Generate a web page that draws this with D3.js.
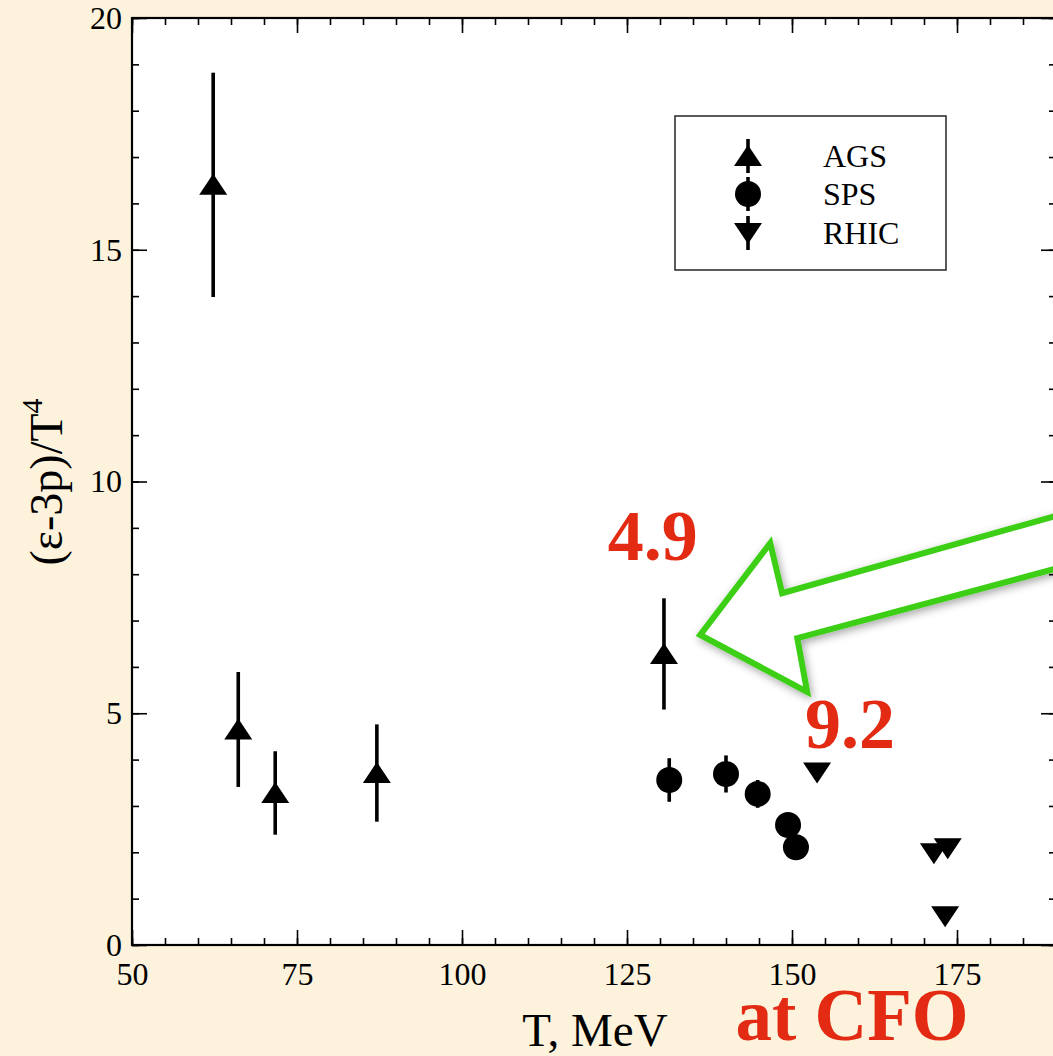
<!DOCTYPE html>
<html>
<head>
<meta charset="utf-8">
<script src="https://cdn.jsdelivr.net/npm/d3@7"></script>
<style>
  html, body { margin: 0; padding: 0; background: #fdf3dc; }
  svg { display: block; }
  text { font-family: "Liberation Serif", "Times New Roman", serif; }
</style>
</head>
<body>
<svg width="1053" height="1056"></svg>
<script>
// data
var agsT   = [62.3, 66.1, 71.7, 87.1, 130.6];
var agsV   = [16.4, 4.65, 3.28, 3.71, 6.28];
var agsErr = [2.42, 1.24, 0.90, 1.05, 1.20];

var spsT   = [131.4, 140.0, 144.8, 149.4, 150.6];
var spsV   = [3.56, 3.69, 3.26, 2.59, 2.11];
var spsErr = [0.47, 0.40, 0.30, 0.20, 0.15];

var rhicT  = [153.8, 171.5, 173.6, 173.2];
var rhicV  = [3.72, 1.98, 2.09, 0.62];

var xMajor = [50, 75, 100, 125, 150, 175];
var yMajor = [0, 5, 10, 15, 20];

// arrow outline, in data units (T, value)
var arrowPts = [[136.1, 6.69], [146.7, 8.67], [148.5, 7.59], [191.5, 9.32],
                [191.5, 8.18], [150.8, 6.62], [152.3, 5.46]];

var notes = [{t: 128.9, v: 8.3, text: "4.9"}, {t: 158.8, v: 4.25, text: "9.2"}];

var svg = d3.select("svg"),
    pLeft = 132, pRight = 1056, pTop = 18, pBottom = 945;

var x = d3.scaleLinear().domain([50, 190]).range([pLeft, pRight]);
var y = d3.scaleLinear().domain([0, 20]).range([pBottom, pTop]);

var defs = svg.append("defs");
var shadow = defs.append("filter").attr("id", "shadow")
    .attr("x", "-20%").attr("y", "-20%").attr("width", "140%").attr("height", "140%");
shadow.append("feDropShadow")
    .attr("dx", 2).attr("dy", 3).attr("stdDeviation", 4)
    .attr("flood-color", "#000").attr("flood-opacity", 0.35);

// plot area
svg.append("rect")
    .attr("x", pLeft).attr("y", pTop)
    .attr("width", pRight - pLeft).attr("height", pBottom - pTop)
    .attr("fill", "#fff");

function minorTicks(a, b, step) {
  return d3.range(a, b + 0.001, step);
}

function styleAxis(g) {
  g.attr("font-size", 32).attr("font-family", '"Liberation Serif", "Times New Roman", serif');
  g.select(".domain").remove();
  g.selectAll(".tick line").attr("stroke", "#000").attr("stroke-width", 1.6);
  g.selectAll("text").attr("fill", "#000");
  // ticks without labels don't need empty text nodes
  g.selectAll("text").filter(function() { return this.textContent === ""; }).remove();
}

// bottom
svg.append("g").attr("transform", "translate(0," + pBottom + ")")
    .call(d3.axisBottom(x).tickValues(minorTicks(50, 190, 5)).tickSize(-7).tickFormat(""))
    .call(styleAxis);
svg.append("g").attr("transform", "translate(0," + pBottom + ")")
    .call(d3.axisBottom(x).tickValues(xMajor).tickSize(-15).tickPadding(17).tickFormat(d3.format("d")))
    .call(styleAxis);
// top
svg.append("g").attr("transform", "translate(0," + pTop + ")")
    .call(d3.axisTop(x).tickValues(minorTicks(50, 190, 5)).tickSize(-7).tickFormat(""))
    .call(styleAxis);
svg.append("g").attr("transform", "translate(0," + pTop + ")")
    .call(d3.axisTop(x).tickValues(xMajor).tickSize(-15).tickFormat(""))
    .call(styleAxis);
// left
svg.append("g").attr("transform", "translate(" + pLeft + ",0)")
    .call(d3.axisLeft(y).tickValues(minorTicks(0, 20, 1)).tickSize(-7).tickFormat(""))
    .call(styleAxis);
svg.append("g").attr("transform", "translate(" + pLeft + ",0)")
    .call(d3.axisLeft(y).tickValues(yMajor).tickSize(-15).tickPadding(10).tickFormat(d3.format("d")))
    .call(styleAxis);
// right
svg.append("g").attr("transform", "translate(" + pRight + ",0)")
    .call(d3.axisRight(y).tickValues(minorTicks(0, 20, 1)).tickSize(-7).tickFormat(""))
    .call(styleAxis);
svg.append("g").attr("transform", "translate(" + pRight + ",0)")
    .call(d3.axisRight(y).tickValues(yMajor).tickSize(-15).tickFormat(""))
    .call(styleAxis);

// frame
svg.append("rect")
    .attr("x", pLeft).attr("y", pTop)
    .attr("width", pRight - pLeft).attr("height", pBottom - pTop)
    .attr("fill", "none").attr("stroke", "#000").attr("stroke-width", 2.2);

// axis titles
svg.append("text")
    .attr("x", 595).attr("y", 1046)
    .attr("text-anchor", "middle").attr("font-size", 47)
    .text("T, MeV");

var yt = svg.append("text")
    .attr("transform", "translate(62,482) rotate(-90)")
    .attr("text-anchor", "middle").attr("font-size", 46);
yt.append("tspan").text("(ε-3p)/T");
yt.append("tspan").attr("font-size", 30).attr("dy", -20).text("4");

// arrow
svg.append("path")
    .attr("d", d3.line().x(d => x(d[0])).y(d => y(d[1])).curve(d3.curveLinearClosed)(arrowPts))
    .attr("fill", "#fff")
    .attr("stroke", "#3ccf14").attr("stroke-width", 6)
    .attr("stroke-linejoin", "miter")
    .attr("filter", "url(#shadow)");

// symbols
var triUp = "M0,-11 L14,10 L-14,10 Z";
var triDown = "M0,11 L14,-10 L-14,-10 Z";

function errorBars(ts, vs, es) {
  svg.append("g").selectAll("line")
    .data(ts.map((t, i) => ({t: t, v: vs[i], e: es[i]})))
    .join("line")
      .attr("x1", d => x(d.t)).attr("x2", d => x(d.t))
      .attr("y1", d => y(d.v + d.e)).attr("y2", d => y(d.v - d.e))
      .attr("stroke", "#000").attr("stroke-width", 3.6);
}

errorBars(agsT, agsV, agsErr);
errorBars(spsT, spsV, spsErr);

svg.append("g").selectAll("path")
  .data(agsT.map((t, i) => ({t: t, v: agsV[i]})))
  .join("path")
    .attr("d", triUp)
    .attr("transform", d => "translate(" + x(d.t) + "," + y(d.v) + ")")
    .attr("fill", "#000");

svg.append("g").selectAll("circle")
  .data(spsT.map((t, i) => ({t: t, v: spsV[i]})))
  .join("circle")
    .attr("cx", d => x(d.t)).attr("cy", d => y(d.v)).attr("r", 13)
    .attr("fill", "#000");

svg.append("g").selectAll("path")
  .data(rhicT.map((t, i) => ({t: t, v: rhicV[i]})))
  .join("path")
    .attr("d", triDown)
    .attr("transform", d => "translate(" + x(d.t) + "," + y(d.v) + ")")
    .attr("fill", "#000");

// legend
var legend = svg.append("g").attr("transform", "translate(675,116)");
legend.append("rect")
    .attr("width", 271).attr("height", 154)
    .attr("fill", "#fff").attr("stroke", "#333").attr("stroke-width", 1.6);

var legendItems = [
  {name: "AGS", sym: "up", dy: 40},
  {name: "SPS", sym: "circle", dy: 78},
  {name: "RHIC", sym: "down", dy: 117}
];
legendItems.forEach(function(it) {
  var g = legend.append("g").attr("transform", "translate(73," + it.dy + ")");
  g.append("line").attr("y1", -17).attr("y2", 17)
    .attr("stroke", "#000").attr("stroke-width", 3.6);
  if (it.sym === "circle") g.append("circle").attr("r", 13).attr("fill", "#000");
  else g.append("path").attr("d", it.sym === "up" ? triUp : triDown).attr("fill", "#000");
  g.append("text").attr("x", 75).attr("dy", "0.35em")
    .attr("font-size", 32).text(it.name);
});

// red annotations
svg.selectAll(".note")
  .data(notes)
  .join("text")
    .attr("class", "note")
    .attr("x", d => x(d.t)).attr("y", d => y(d.v))
    .attr("text-anchor", "middle")
    .attr("font-size", 72).attr("font-weight", "bold")
    .attr("fill", "#e32b13")
    .text(d => d.text);

svg.append("text")
    .attr("x", 852).attr("y", 1040)
    .attr("text-anchor", "middle")
    .attr("font-size", 73).attr("font-weight", "bold")
    .attr("fill", "#e32b13")
    .text("at CFO");
</script>
</body>
</html>
